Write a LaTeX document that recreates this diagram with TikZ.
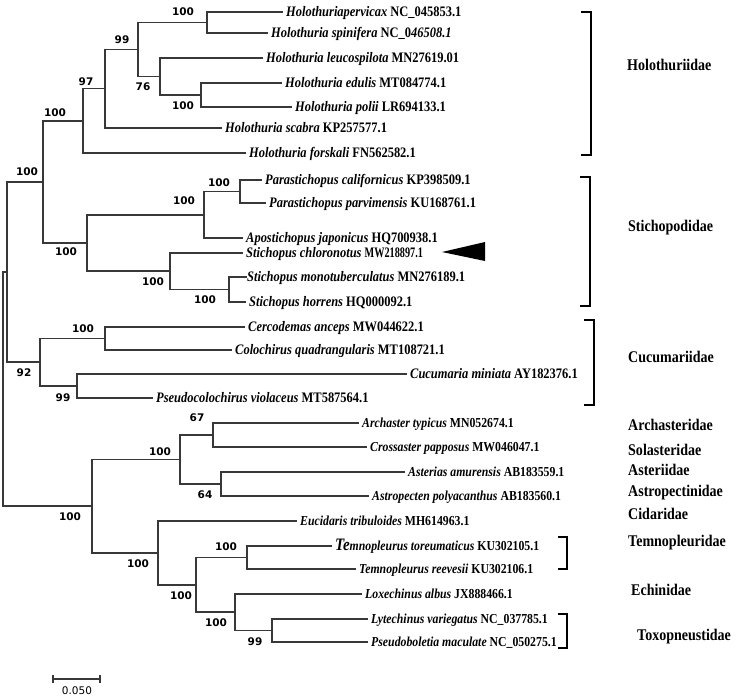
\documentclass[tikz,border=0pt]{standalone}
\usepackage{fontspec}
\setmainfont{Liberation Serif}[FakeStretch=0.86]
\newfontfamily\bsfont{DejaVu Sans}
\newcommand\taxon[2]{{\itshape #1} #2}
\begin{document}
\begin{tikzpicture}[x=1pt,y=-1pt]
\tikzset{
  br/.style={draw=black!78, line width=1.1pt},
  sp/.style={anchor=west, inner xsep=3pt, inner ysep=0pt, text height=9pt, text depth=0pt,
    font=\fontsize{14.5}{16}\selectfont\bfseries},
  spl/.style={sp, font=\fontsize{13.7}{15}\selectfont\bfseries},
  bs/.style={inner sep=0pt, font=\bsfont\bfseries\fontsize{10.5}{11}\selectfont},
  fam/.style={anchor=west, inner sep=0pt, font=\fontsize{16.3}{18}\selectfont\bfseries},
  brk/.style={draw=black, line width=1.3pt},
}
\useasboundingbox (0,0) rectangle (745,697);
% ---------- internal nodes ----------
\coordinate (A) at (207,22.5);
\coordinate (B) at (201,95);
\coordinate (C) at (160,76.5);
\coordinate (D) at (138,49.5);
\coordinate (E) at (105,88.5);
\coordinate (F) at (83,121);
\coordinate (G) at (43,182);
\coordinate (J) at (240,191.5);
\coordinate (I) at (204,215);
\coordinate (L) at (229,289.5);
\coordinate (K) at (170,271);
\coordinate (H) at (87,243);
\coordinate (W) at (105,338.5);
\coordinate (X) at (77,386);
\coordinate (Cu) at (40,362);
\coordinate (M) at (7,272);
\coordinate (P) at (213,435);
\coordinate (Q) at (221,484);
\coordinate (O) at (180,459.5);
\coordinate (U) at (247,557.5);
\coordinate (V) at (272,630.5);
\coordinate (T) at (235,612);
\coordinate (S) at (196,585);
\coordinate (R) at (158,553);
\coordinate (N) at (92,506);
\coordinate (Root) at (3,389);
% ---------- leaves ----------
\node[sp] (l1) at (283,12) {\taxon{Holothuriapervicax}{NC\_045853.1}};
\node[sp] (l2) at (268,33) {\taxon{Holothuria spinifera}{NC\_0\textit{46508.1}}};
\node[sp] (l3) at (263,58) {\taxon{Holothuria leucospilota}{MN27619.01}};
\node[sp] (l4) at (282,83) {\taxon{Holothuria edulis}{MT084774.1}};
\node[sp] (l5) at (292,107) {\taxon{Holothuria polii}{LR694133.1}};
\node[sp] (l6) at (222,128) {\taxon{Holothuria scabra}{KP257577.1}};
\node[sp] (l7) at (246,153) {\taxon{Holothuria forskali}{FN562582.1}};
\node[sp] (l8) at (262,180) {\taxon{Parastichopus californicus}{KP398509.1}};
\node[sp] (l9) at (266,203) {\taxon{Parastichopus parvimensis}{KU168761.1}};
\node[sp] (l10) at (243,238) {\taxon{Apostichopus japonicus}{HQ700938.1}};
\node[sp] (l11) at (243,253) {\taxon{Stichopus chloronotus}{\scalebox{0.82}[1]{MW218897.1}}};
\node[sp,inner xsep=0pt] (l12) at (247,277) {\taxon{Stichopus monotuberculatus}{MN276189.1}};
\node[sp] (l13) at (246,302) {\taxon{Stichopus horrens}{HQ000092.1}};
\node[sp] (l14) at (245,327) {\taxon{Cercodemas anceps}{MW044622.1}};
\node[sp] (l15) at (232,350) {\taxon{Colochirus quadrangularis}{MT108721.1}};
\node[sp] (l16) at (407,374) {\taxon{Cucumaria miniata}{AY182376.1}};
\node[sp] (l17) at (153,398) {\taxon{Pseudocolochirus violaceus}{MT587564.1}};
\node[spl] (l18) at (359,423) {\taxon{Archaster typicus}{MN052674.1}};
\node[spl] (l19) at (367,447) {\taxon{Crossaster papposus}{MW046047.1}};
\node[spl] (l20) at (405,472) {\taxon{Asterias amurensis}{AB183559.1}};
\node[spl] (l21) at (369,496) {\taxon{Astropecten polyacanthus}{AB183560.1}};
\node[spl] (l22) at (297,521) {\taxon{Eucidaris tribuloides}{MH614963.1}};
\node[spl] (l23) at (332,546) {\taxon{{\fontsize{17.5}{18}\selectfont Te}mnopleurus toreumaticus}{KU302105.1}};
\node[spl] (l24) at (356,569) {\taxon{Temnopleurus reevesii}{KU302106.1}};
\node[spl] (l25) at (362,594) {\taxon{Loxechinus albus}{JX888466.1}};
\node[spl] (l26) at (368,619) {\taxon{Lytechinus variegatus}{NC\_037785.1}};
\node[spl] (l27) at (368,642) {\taxon{Pseudoboletia maculate}{NC\_050275.1}};
% ---------- branches ----------
\draw[br] (A) |- (l1.west);
\draw[br] (A) |- (l2.west);
\draw[br] (B) |- (l4.west);
\draw[br] (B) |- (l5.west);
\draw[br] (C) |- (l3.west);
\draw[br] (C) |- (B);
\draw[br] (D) |- (A);
\draw[br] (D) |- (C);
\draw[br] (E) |- (D);
\draw[br] (E) |- (l6.west);
\draw[br] (F) |- (E);
\draw[br] (F) |- (l7.west);
\draw[br] (G) |- (F);
\draw[br] (G) |- (H);
\draw[br] (J) |- (l8.west);
\draw[br] (J) |- (l9.west);
\draw[br] (I) |- (J);
\draw[br] (I) |- (l10.west);
\draw[br] (L) |- (l12.west);
\draw[br] (L) |- (l13.west);
\draw[br] (K) |- (l11.west);
\draw[br] (K) |- (L);
\draw[br] (H) |- (I);
\draw[br] (H) |- (K);
\draw[br] (W) |- (l14.west);
\draw[br] (W) |- (l15.west);
\draw[br] (X) |- (l16.west);
\draw[br] (X) |- (l17.west);
\draw[br] (Cu) |- (W);
\draw[br] (Cu) |- (X);
\draw[br] (M) |- (G);
\draw[br] (M) |- (Cu);
\draw[br] (P) |- (l18.west);
\draw[br] (P) |- (l19.west);
\draw[br] (Q) |- (l20.west);
\draw[br] (Q) |- (l21.west);
\draw[br] (O) |- (P);
\draw[br] (O) |- (Q);
\draw[br] (U) |- (l23.west);
\draw[br] (U) |- (l24.west);
\draw[br] (V) |- (l26.west);
\draw[br] (V) |- (l27.west);
\draw[br] (T) |- (l25.west);
\draw[br] (T) |- (V);
\draw[br] (S) |- (U);
\draw[br] (S) |- (T);
\draw[br] (R) |- (l22.west);
\draw[br] (R) |- (S);
\draw[br] (N) |- (O);
\draw[br] (N) |- (R);
\draw[br] (Root) |- (M);
\draw[br] (Root) |- (N);
% ---------- bootstrap values ----------
\node[bs] (bA) at (183,12) {100};
\node[bs] (bB) at (183,106) {100};
\node[bs] (bC) at (143,87) {76};
\node[bs] (bD) at (122,40) {99};
\node[bs] (bE) at (86,82) {97};
\node[bs] (bF) at (55,113) {100};
\node[bs] (bG) at (27,172) {100};
\node[bs] (bJ) at (219,183) {100};
\node[bs] (bI) at (184,201) {100};
\node[bs] (bH) at (66,252) {100};
\node[bs] (bK) at (153,282) {100};
\node[bs] (bL) at (205,300) {100};
\node[bs] (bW) at (83,329) {100};
\node[bs] (bX) at (63,398) {99};
\node[bs] (bCu) at (24,373) {92};
\node[bs] (bP) at (197,418) {67};
\node[bs] (bO) at (160,452) {100};
\node[bs] (bQ) at (205,495) {64};
\node[bs] (bN) at (70,517) {100};
\node[bs] (bR) at (138,564) {100};
\node[bs] (bU) at (226,547) {100};
\node[bs] (bS) at (181,596) {100};
\node[bs] (bT) at (216,623) {100};
\node[bs] (bV) at (255,642) {99};
% ---------- marker ----------
\fill[black] (442,252) -- (485,242) -- (485,261) -- cycle;
% ---------- brackets ----------
\draw[brk] (581,12) -- (591,12) -- (591,155) -- (581,155);
\draw[brk] (580,177) -- (590,177) -- (590,306) -- (580,306);
\draw[brk] (584,320) -- (594,320) -- (594,405) -- (584,405);
\draw[brk] (558,537) -- (567,537) -- (567,569) -- (558,569);
\draw[brk] (558,614) -- (567,614) -- (567,648) -- (558,648);
% ---------- family labels ----------
\node[fam] (f1) at (627,65) {Holothuriidae};
\node[fam] (f2) at (628,228) {Stichopodidae};
\node[fam] (f3) at (628,357) {Cucumariidae};
\node[fam] (f4) at (628,425) {Archasteridae};
\node[fam] (f5) at (628,450) {Solasteridae};
\node[fam] (f6) at (628,470) {Asteriidae};
\node[fam] (f7) at (628,493) {Astropectinidae};
\node[fam] (f8) at (628,514) {Cidaridae};
\node[fam] (f9) at (628,543) {Temnopleuridae};
\node[fam] (f10) at (631,590) {Echinidae};
\node[fam] (f11) at (637,637) {Toxopneustidae};
% ---------- scale bar ----------
\draw[br] (53,679) -- (100,679);
\draw[br] (53,675) -- (53,683);
\draw[br] (100,675) -- (100,683);
\node[inner sep=0pt, font=\bsfont\fontsize{10.5}{11}\selectfont] (sc) at (77,691) {0.050};
\end{tikzpicture}
\end{document}
